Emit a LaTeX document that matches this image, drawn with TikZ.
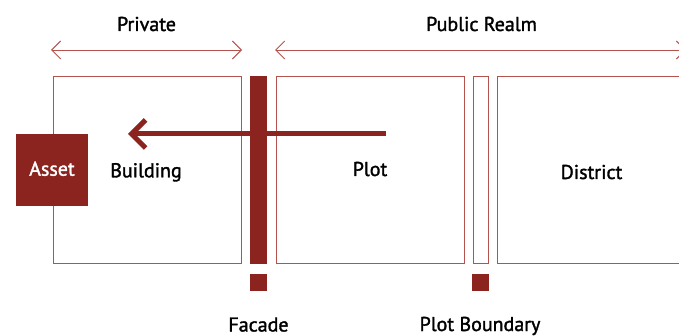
\documentclass[tikz,border=0pt]{standalone}
\usepackage{fontspec}
\setmainfont{PT Sans}
\newfontfamily\lblfont{PT Sans}[FakeBold=1.6]
\usetikzlibrary{arrows.meta}
\definecolor{dred}{HTML}{8B241E}
\definecolor{lred}{HTML}{B4534D}
\begin{document}
\begin{tikzpicture}[x=1pt,y=-1pt,
  zone/.style={draw=lred,line width=1pt},
  bar/.style={fill=dred},
  lbl/.style={font=\lblfont\fontsize{20}{22}\selectfont,text=black,inner sep=0pt,anchor=base},
  span/.style={draw=lred,line width=0.9pt,{Straight Barb[length=9pt,width=18pt]}-{Straight Barb[length=9pt,width=18pt]}}]
\useasboundingbox (0,0) rectangle (679,336);
\clip (0,0) rectangle (679,336);
% boxes
\draw[zone] (53.5,76.5) rectangle (241.5,263.5);
\draw[zone] (276.5,76.5) rectangle (464.5,263.5);
\draw[zone] (473,76.5) rectangle (488.5,263.5);
\draw[zone] (497,76.5) rectangle (700,263.5);
% facade and boundary markers
\fill[bar] (250.3,76.5) rectangle (267,264);
\fill[bar] (250.3,274) rectangle (267,290.7);
\fill[bar] (472.3,274) rectangle (489,290.7);
% asset
\node[fill=dred,minimum width=72pt,minimum height=72pt,inner sep=0pt] (asset) at (52,170) {};
\node[lbl,text=white] (assetlbl) at (52,175.7) {Asset};
% labels
\node[lbl] (building) at (146,177.3) {Building};
\node[lbl] (plot) at (370,176) {Plot};
\node[lbl] (district) at (591.5,179) {District};
\node[lbl] (facade) at (258.5,331.5) {Facade};
\node[lbl] (pb) at (480,331) {Plot Boundary};
\node[lbl] (private) at (146.5,31) {Private};
\node[lbl] (public) at (481.5,31) {Public Realm};
% span arrows
\coordinate (pa) at (51,50);
\coordinate (pb2) at (242,50);
\coordinate (qa) at (275,50);
\coordinate (qb) at (686,50);
\draw[span] (pa) -- (pb2);
\draw[span] (qa) -- (qb);
% big arrow
\coordinate (as) at (386,134);
\coordinate (ae) at (128,134);
\draw[dred,line width=5pt,-{Straight Barb[length=14pt,width=28pt,line width=5pt]}] (as) -- (ae);
\end{tikzpicture}
\end{document}
